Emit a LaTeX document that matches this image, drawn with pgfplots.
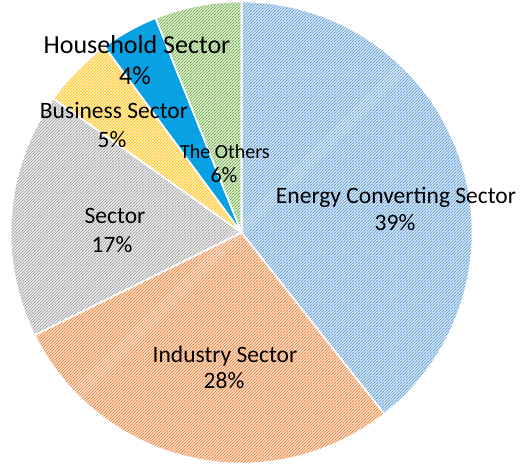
\documentclass[border=0pt]{standalone}
\usepackage{pgfplots}
\pgfplotsset{compat=1.18}
\usepackage{pgfplotstable}
\usetikzlibrary{patterns.meta}
\usepackage{fontspec}
\setmainfont{Carlito}

\definecolor{enBg}{HTML}{DEEBF7}
\definecolor{enLn}{HTML}{5B9BD5}
\definecolor{inBg}{HTML}{FCE6D6}
\definecolor{inLn}{HTML}{ED7D31}
\definecolor{seBg}{HTML}{EFEFEF}
\definecolor{seLn}{HTML}{A0A0A0}
\definecolor{buBg}{HTML}{FFF2CC}
\definecolor{buLn}{HTML}{FFC000}
\definecolor{hoFill}{RGB}{8,162,228}
\definecolor{otBg}{HTML}{E4F1DB}
\definecolor{otLn}{HTML}{70AD47}

\pgfplotstableread{
sector value
Energy 39
Industry 28
Transport 17
Business 5
Household 4
Others 6
}\piedata

\pgfplotstablegetelem{0}{value}\of\piedata\edef\vA{\pgfplotsretval}
\pgfplotstablegetelem{1}{value}\of\piedata\edef\vB{\pgfplotsretval}
\pgfplotstablegetelem{2}{value}\of\piedata\edef\vC{\pgfplotsretval}
\pgfplotstablegetelem{3}{value}\of\piedata\edef\vD{\pgfplotsretval}
\pgfplotstablegetelem{4}{value}\of\piedata\edef\vE{\pgfplotsretval}
\pgfplotstablegetelem{5}{value}\of\piedata\edef\vF{\pgfplotsretval}
\pgfmathsetmacro\tot{\vA+\vB+\vC+\vD+\vE+\vF}
\pgfmathsetmacro\aA{360*\vA/\tot}
\pgfmathsetmacro\aB{\aA+360*\vB/\tot}
\pgfmathsetmacro\aC{\aB+360*\vC/\tot}
\pgfmathsetmacro\aD{\aC+360*\vD/\tot}
\pgfmathsetmacro\aE{\aD+360*\vE/\tot}

\newcommand\slice[4]{%
  \addplot[preaction={fill=#3}, draw=white, line width=1.6pt, line join=round,
    pattern={Lines[angle=45,distance=2.12pt,line width=0.7pt]}, pattern color=#4,
    domain=#1:#2, samples=120, variable=\t]
    ({241.5+231*sin(\t)},{232.5-231*cos(\t)}) -- (axis cs:241.5,232.5) -- cycle;}

\begin{document}
\begin{tikzpicture}
\useasboundingbox (0,0) rectangle (525pt,469pt);
\begin{axis}[hide axis, scale only axis, width=525pt, height=469pt,
  xmin=0, xmax=525, ymin=0, ymax=469, y dir=reverse, clip=false,
  at={(0,0)}, anchor=south west]
\slice{0}{\aA}{enBg}{enLn}
\slice{\aA}{\aB}{inBg}{inLn}
\slice{\aB}{\aC}{seBg}{seLn}
\slice{\aC}{\aD}{buBg}{buLn}
\addplot[fill=hoFill, draw=white, line width=1.6pt, line join=round,
  domain=\aD:\aE, samples=60, variable=\t]
  ({241.5+231*sin(\t)},{232.5-231*cos(\t)}) -- (axis cs:241.5,232.5) -- cycle;
\slice{\aE}{360}{otBg}{otLn}

\begin{scope}[every node/.style={anchor=base, inner sep=0pt, text=black}]
\node[font=\fontsize{23.5}{27}\selectfont] at (axis cs:396,203) {Energy Converting Sector};
\node[font=\fontsize{23.5}{27}\selectfont] at (axis cs:395,230) {39\%};
\node[font=\fontsize{23.5}{27}\selectfont] at (axis cs:225,362) {Industry Sector};
\node[font=\fontsize{23.5}{27}\selectfont] at (axis cs:224,388) {28\%};
\node[font=\fontsize{23.5}{27}\selectfont] at (axis cs:115,223) {Sector};
\node[font=\fontsize{23.5}{27}\selectfont] at (axis cs:112,252) {17\%};
\node[font=\fontsize{23.5}{27}\selectfont] at (axis cs:114,118) {Business Sector};
\node[font=\fontsize{23.5}{27}\selectfont] at (axis cs:112,147) {5\%};
\node[font=\fontsize{26}{30}\selectfont] at (axis cs:137,53) {Household Sector};
\node[font=\fontsize{26}{30}\selectfont] at (axis cs:135,84) {4\%};
\node[font=\fontsize{20}{24}\selectfont] at (axis cs:225,158) {The Others};
\node[font=\fontsize{22}{26}\selectfont] at (axis cs:224,182) {6\%};
\end{scope}
\end{axis}
\end{tikzpicture}
\end{document}
